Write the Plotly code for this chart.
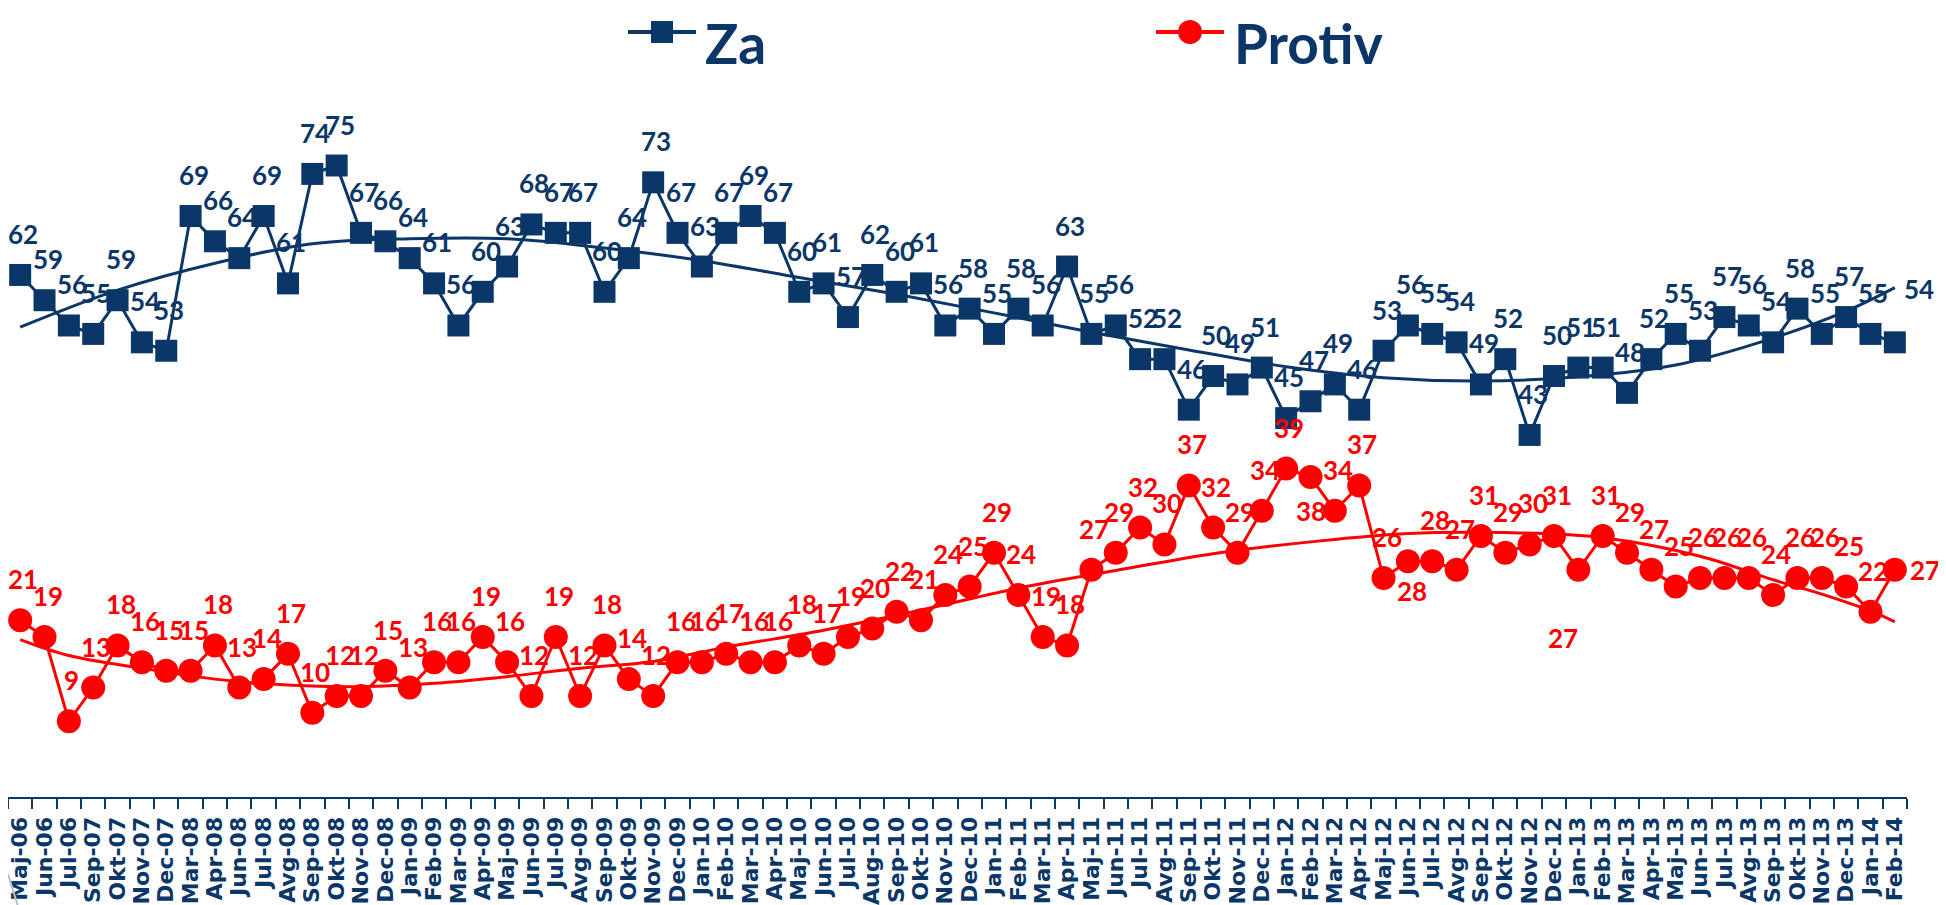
import plotly.graph_objects as go

# ---------------- data ----------------
categories = ["Maj-06","Jun-06","Jul-06","Sep-07","Okt-07","Nov-07","Dec-07","Mar-08","Apr-08","Jun-08",
              "Jul-08","Avg-08","Sep-08","Okt-08","Nov-08","Dec-08","Jan-09","Feb-09","Mar-09","Apr-09",
              "Maj-09","Jun-09","Jul-09","Avg-09","Sep-09","Okt-09","Nov-09","Dec-09","Jan-10","Feb-10",
              "Mar-10","Apr-10","Maj-10","Jun-10","Jul-10","Aug-10","Sep-10","Okt-10","Nov-10","Dec-10",
              "Jan-11","Feb-11","Mar-11","Apr-11","Maj-11","Jun-11","Jul-11","Avg-11","Sep-11","Okt-11",
              "Nov-11","Dec-11","Jan-12","Feb-12","Mar-12","Apr-12","Maj-12","Jun-12","Jul-12","Avg-12",
              "Sep-12","Okt-12","Nov-12","Dec-12","Jan-13","Feb-13","Mar-13","Apr-13","Maj-13","Jun-13",
              "Jul-13","Avg-13","Sep-13","Okt-13","Nov-13","Dec-13","Jan-14","Feb-14"]

za = [62,59,56,55,59,54,53,69,66,64,69,61,74,75,67,66,64,61,56,60,
      63,68,67,67,60,64,73,67,63,67,69,67,60,61,57,62,60,61,56,58,
      55,58,56,63,55,56,52,52,46,50,49,51,45,47,49,46,53,56,55,54,
      49,52,43,50,51,51,48,52,55,53,57,56,54,58,55,57,55,54]

protiv = [21,19,9,13,18,16,15,15,18,13,14,17,10,12,12,15,13,16,16,19,
          16,12,19,12,18,14,12,16,16,17,16,16,18,17,19,20,22,21,24,25,
          29,24,19,18,27,29,32,30,37,32,29,34,39,38,34,37,26,28,28,27,
          31,29,30,31,27,31,29,27,25,26,26,26,24,26,26,25,22,27]

# trend lines (category index, value)
za_trend_idx = [0, 4, 8, 12, 16, 20, 24, 28, 32, 36, 40, 44, 48, 52, 56, 60, 64, 68, 72, 75, 77]
za_trend_val = [55.8, 60.2, 63.4, 65.7, 66.3, 66.3, 65.2, 63.7, 61.7, 59.7, 57.5, 55.2, 53.1, 51.1,
                49.8, 49.4, 49.9, 51.3, 54.5, 57.7, 60.5]

protiv_trend_idx = [0, 2, 5, 8, 11, 14, 17, 20, 23, 26, 29, 33, 37, 41, 45, 49, 53, 57, 61, 65, 69, 72, 74, 76, 77]
protiv_trend_val = [18.7, 16.8, 15.3, 14.0, 13.3, 13.1, 13.5, 14.3, 15.3, 16.1, 17.8, 19.8, 22.2, 24.8,
                    26.9, 28.9, 30.3, 31.3, 31.4, 30.8, 28.6, 25.8, 24.1, 22.1, 20.8]

series_names = ["Za", "Protiv"]

# ---------------- styling ----------------
NAVY = "#0B3768"
RED = "#FF0000"
W, H = 1946, 905
ML, MR, MT, MB = 0, 47, 82, 116
PLOT_W = W - ML - MR
PLOT_H = H - MT - MB
PX_PER_UNIT = 8.42
Y_MAX = PLOT_H / PX_PER_UNIT

LABEL_FONT = "Lato"
TICK_FONT = "DejaVu Sans"

x_idx = list(range(len(categories)))

fig = go.Figure()

fig.add_trace(go.Scatter(x=za_trend_idx, y=za_trend_val, mode="lines",
                         line=dict(color=NAVY, width=3, shape="spline", smoothing=1.0),
                         hoverinfo="skip", showlegend=False))
fig.add_trace(go.Scatter(x=protiv_trend_idx, y=protiv_trend_val, mode="lines",
                         line=dict(color=RED, width=3, shape="spline", smoothing=1.0),
                         hoverinfo="skip", showlegend=False))

fig.add_trace(go.Scatter(x=x_idx, y=za, mode="lines+markers", name=series_names[0],
                         line=dict(color=NAVY, width=3),
                         marker=dict(symbol="square", size=22, color=NAVY),
                         customdata=categories, hovertemplate="%{customdata}: %{y}<extra>Za</extra>",
                         showlegend=False))
fig.add_trace(go.Scatter(x=x_idx, y=protiv, mode="lines+markers", name=series_names[1],
                         line=dict(color=RED, width=3),
                         marker=dict(symbol="circle", size=24, color=RED),
                         customdata=categories, hovertemplate="%{customdata}: %{y}<extra>Protiv</extra>",
                         showlegend=False))

# data labels (offsets in pixels; a few labels sit elsewhere in the original)
DEFAULT_SHIFT = (3, 41)
za_label_shift = {77: (24, 53)}
protiv_label_shift = {53: (0, -34), 57: (4, -30), 64: (-15, -68), 77: (30, 0)}

annotations = []
for i, v in enumerate(za):
    dx, dy = za_label_shift.get(i, DEFAULT_SHIFT)
    annotations.append(dict(x=i, y=v, xref="x", yref="y", text=str(v), showarrow=False,
                            xshift=dx, yshift=dy, xanchor="center", yanchor="middle",
                            font=dict(family=LABEL_FONT, size=26, color=NAVY, weight="bold")))
for i, v in enumerate(protiv):
    dx, dy = protiv_label_shift.get(i, DEFAULT_SHIFT)
    annotations.append(dict(x=i, y=v, xref="x", yref="y", text=str(v), showarrow=False,
                            xshift=dx, yshift=dy, xanchor="center", yanchor="middle",
                            font=dict(family=LABEL_FONT, size=26, color=RED, weight="bold")))


def px_to_paper_x(px):
    return (px - ML) / PLOT_W


def py_to_paper_y(py):
    return (H - MB - py) / PLOT_H


# manual legend
LEG_Y = 24
shapes = [
    dict(type="line", xref="paper", yref="paper",
         x0=px_to_paper_x(620), x1=px_to_paper_x(688), y0=py_to_paper_y(LEG_Y), y1=py_to_paper_y(LEG_Y),
         line=dict(color=NAVY, width=4)),
    dict(type="rect", xref="paper", yref="paper",
         x0=px_to_paper_x(654 - 11), x1=px_to_paper_x(654 + 11),
         y0=py_to_paper_y(LEG_Y + 11), y1=py_to_paper_y(LEG_Y - 11),
         line=dict(width=0), fillcolor=NAVY),
    dict(type="line", xref="paper", yref="paper",
         x0=px_to_paper_x(1148), x1=px_to_paper_x(1216), y0=py_to_paper_y(LEG_Y), y1=py_to_paper_y(LEG_Y),
         line=dict(color=RED, width=4)),
    dict(type="circle", xref="paper", yref="paper",
         x0=px_to_paper_x(1182 - 12), x1=px_to_paper_x(1182 + 12),
         y0=py_to_paper_y(LEG_Y + 12), y1=py_to_paper_y(LEG_Y - 12),
         line=dict(width=0), fillcolor=RED),
    # faint slide decoration at the bottom-left corner
    dict(type="line", xref="paper", yref="paper",
         x0=px_to_paper_x(0), x1=px_to_paper_x(12), y0=py_to_paper_y(866), y1=py_to_paper_y(905),
         line=dict(color="#B8C0D0", width=2)),
]
annotations.append(dict(x=px_to_paper_x(696), y=py_to_paper_y(1), xref="paper", yref="paper",
                        text=series_names[0], showarrow=False, xanchor="left", yanchor="top",
                        borderpad=0,
                        font=dict(family=LABEL_FONT, size=55, color=NAVY, weight="bold")))
annotations.append(dict(x=px_to_paper_x(1225), y=py_to_paper_y(1), xref="paper", yref="paper",
                        text=series_names[1], showarrow=False, xanchor="left", yanchor="top",
                        borderpad=0,
                        font=dict(family=LABEL_FONT, size=55, color=NAVY, weight="bold")))

fig.update_layout(
    width=W, height=H,
    margin=dict(l=ML, r=MR, t=MT, b=MB, autoexpand=False),
    paper_bgcolor="white", plot_bgcolor="white",
    showlegend=False,
    annotations=annotations,
    shapes=shapes,
    xaxis=dict(
        range=[-0.5, len(categories) - 0.5],
        tickmode="array", tickvals=x_idx, ticktext=categories,
        tickangle=-90, ticks="", ticklabelstandoff=9, ticklabeloverflow="allow",
        tickfont=dict(family=TICK_FONT, size=22, color=NAVY, weight="bold"),
        showline=True, linecolor=NAVY, linewidth=2,
        showgrid=False, zeroline=False,
        minor=dict(tickmode="array", tickvals=[i - 0.5 for i in range(len(categories) + 1)],
                   ticks="outside", ticklen=10, tickwidth=1.5, tickcolor=NAVY, showgrid=False),
        fixedrange=True,
    ),
    yaxis=dict(range=[0, Y_MAX], visible=False, showgrid=False, zeroline=False, fixedrange=True),
)

fig.write_html("out.html")
